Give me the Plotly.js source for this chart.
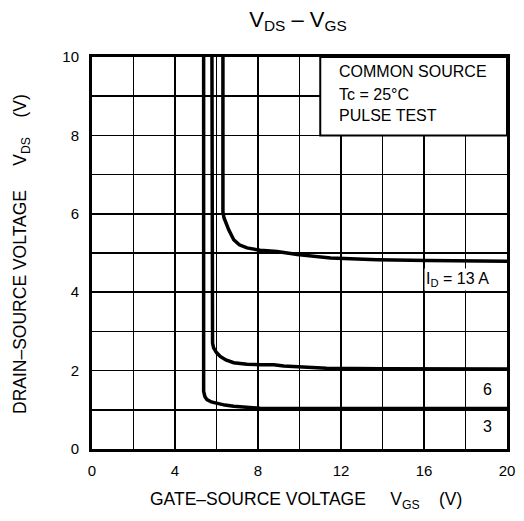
<!DOCTYPE html>
<html>
<head>
<meta charset="utf-8">
<script src="https://cdn.plot.ly/plotly-3.0.1.min.js"></script>
<style>html,body{margin:0;padding:0;background:#fff;}#chart{width:524px;height:521px;}</style>
</head>
<body>
<div id="chart"></div>
<script>
// Curve data (VGS in V, VDS in V)
const id3_vgs = [5.38, 5.38, 5.44, 5.54, 5.75, 6.02, 6.4, 6.83, 7.4, 8.1, 10, 14, 20];
const id3_vds = [10, 1.47, 1.34, 1.26, 1.20, 1.16, 1.12, 1.09, 1.06, 1.04, 1.03, 1.03, 1.03];

const id6_vgs = [5.78, 5.78, 5.81, 5.86, 6.0, 6.18, 6.45, 6.83, 7.47, 8.1, 8.76, 9.24, 10.05, 11.3, 14, 20];
const id6_vds = [10, 2.87, 2.70, 2.58, 2.46, 2.36, 2.27, 2.20, 2.16, 2.15, 2.15, 2.12, 2.09, 2.06, 2.05, 2.04];

const id13_vgs = [6.31, 6.31, 6.36, 6.45, 6.59, 6.83, 7.1, 7.47, 8.1, 8.92, 9.89, 11.5, 13.75, 16.17, 20];
const id13_vds = [10, 6.05, 5.9, 5.76, 5.59, 5.34, 5.21, 5.13, 5.07, 5.04, 4.96, 4.87, 4.83, 4.81, 4.79];

const curveLabels = ["I<sub>D</sub> = 13 A", "6", "3"];
const labelX = [17.63, 19.04, 19.04];
const labelY = [4.32, 1.51, 0.57];

const infoLines = ["COMMON SOURCE", "Tc = 25°C", "PULSE TEST"];
const infoY = [9.64, 9.05, 8.5];

// grid lines every 2 V (x) and every 1 V (y); only some carry labels
const xTickVals = [0, 2, 4, 6, 8, 10, 12, 14, 16, 18, 20];
const xTickText = ["0", "", "4", "", "8", "", "12", "", "16", "", "20"];
const yTickVals = [0, 1, 2, 3, 4, 5, 6, 7, 8, 9, 10];
const yTickText = ["0", "", "2", "", "4", "", "6", "", "8", "", "10"];

const lineStyle = {color: '#000', width: 3.5, shape: 'linear'};
const traces = [
  {x: id3_vgs, y: id3_vds, mode: 'lines', line: lineStyle, hoverinfo: 'skip'},
  {x: id6_vgs, y: id6_vds, mode: 'lines', line: lineStyle, hoverinfo: 'skip'},
  {x: id13_vgs, y: id13_vds, mode: 'lines', line: lineStyle, hoverinfo: 'skip'}
];

const font = "Liberation Sans, Arial, sans-serif";
const nb = n => "\u00A0".repeat(n);

const W = 524, H = 521, mL = 92, mR = 17, mT = 57, mB = 72;
const pw = W - mL - mR, ph = H - mT - mB;
const px = x => (x - mL) / pw;          // pixel x -> paper x
const py = y => (H - mB - y) / ph;      // pixel y -> paper y

const annotations = [];
curveLabels.forEach((t, i) => annotations.push({
  x: labelX[i], y: labelY[i], xref: 'x', yref: 'y', text: t, showarrow: false,
  xanchor: 'center', yanchor: 'middle',
  font: {family: font, size: 16, color: '#000'}, bgcolor: '#fff', borderpad: 1
}));
infoLines.forEach((t, i) => annotations.push({
  x: 11.8, y: infoY[i], xref: 'x', yref: 'y', text: t, showarrow: false,
  xanchor: 'left', yanchor: 'middle',
  font: {family: font, size: 16, color: '#000'}
}));
annotations.push({
  x: px(306), y: py(500), xref: 'paper', yref: 'paper',
  xanchor: 'center', yanchor: 'middle',
  text: "GATE–SOURCE VOLTAGE" + nb(5) + "V<sub>GS</sub>" + nb(4) + "(V)",
  showarrow: false, font: {family: font, size: 17.5, color: '#000'}
});
annotations.push({
  x: px(21), y: py(254), xref: 'paper', yref: 'paper',
  xanchor: 'center', yanchor: 'middle', textangle: -90,
  text: "DRAIN–SOURCE VOLTAGE" + nb(5) + "V<sub>DS</sub>" + nb(4) + "(V)",
  showarrow: false, font: {family: font, size: 17.5, color: '#000'}
});

const axisCommon = {
  ticks: '', showgrid: true, gridcolor: '#000', gridwidth: 1.5,
  showline: true, mirror: true, linecolor: '#000', linewidth: 3, zeroline: false,
  tickfont: {family: font, size: 15, color: '#000'}, fixedrange: true, tickmode: 'array'
};

const layout = {
  width: W, height: H,
  margin: {l: mL, r: mR, t: mT, b: mB, pad: 0},
  paper_bgcolor: '#fff', plot_bgcolor: '#fff',
  showlegend: false,
  title: {text: "V<sub>DS</sub> – V<sub>GS</sub>", font: {family: font, size: 22, color: '#000'},
          x: 298 / W, xanchor: 'center', y: 1 - 19 / H, yanchor: 'middle'},
  xaxis: Object.assign({}, axisCommon, {range: [0, 20], tickvals: xTickVals, ticktext: xTickText, ticklabelstandoff: 6}),
  yaxis: Object.assign({}, axisCommon, {range: [0, 10], tickvals: yTickVals, ticktext: yTickText, ticklabelstandoff: 7}),
  shapes: [{
    type: 'rect', xref: 'x', yref: 'y', x0: 11, x1: 20, y0: 8, y1: 10,
    fillcolor: '#fff', line: {color: '#000', width: 2}, layer: 'above'
  }],
  annotations: annotations
};

Plotly.newPlot('chart', traces, layout, {staticPlot: true, displayModeBar: false});
</script>
</body>
</html>
